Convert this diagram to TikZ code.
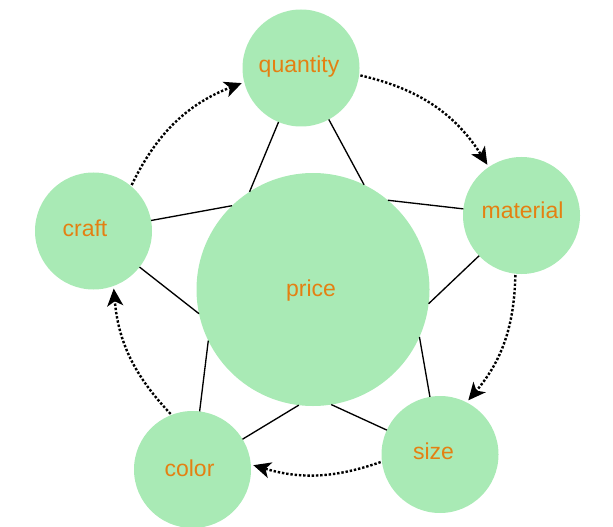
\documentclass[tikz,border=0pt]{standalone}
\usepackage{fontspec}
\setmainfont{Liberation Sans}
\usetikzlibrary{arrows.meta}
\definecolor{bubgreen}{RGB}{169,234,181}
\definecolor{txtorange}{RGB}{228,128,18}
\begin{document}
\begin{tikzpicture}[x=0.75pt,y=0.75pt,
 bub/.style={circle,fill=bubgreen,draw=none,inner sep=0pt,outer sep=0pt,minimum size=87.75pt},
 bigbub/.style={bub,minimum size=174.75pt},
 lbl/.style={text=txtorange,font=\fontsize{17.25}{20}\selectfont,anchor=base,inner sep=0pt},
 spoke/.style={draw=black,line width=1pt},
 flow/.style={line width=1.8pt,dash pattern=on 1.8pt off 1.4pt,-{Stealth[length=13pt,width=12pt,inset=3.5pt]},shorten >=2pt,shorten <=1pt}]
\useasboundingbox (0,0) rectangle (613,-527);
% circles
\node[bigbub] (p) at (313,-289.5) {};
\node[bub] (q) at (301,-68) {};
\node[bub] (m) at (521.5,-215.5) {};
\node[bub] (s) at (440,-454.5) {};
\node[bub] (c) at (192.5,-469.5) {};
\node[bub] (cr) at (93.5,-231) {};
% spokes
\draw[spoke] (q) -- (p.123.3);
\draw[spoke] (q) -- (p.64.8);
\draw[spoke] (cr) -- (p.134.5);
\draw[spoke] (cr) -- (p.192.5);
\draw[spoke] (m) -- (p.50.4);
\draw[spoke] (m) -- (p.353.4);
\draw[spoke] (s) -- (p.336.3);
\draw[spoke] (s) -- (p.279.8);
\draw[spoke] (c) -- (p.206.6);
\draw[spoke] (c) -- (p.263.6);
% flow arrows
\draw[flow] (cr.50) to[bend left=21.5] (q.194);
\draw[flow] (q.353) to[bend left=22.4] (m.124);
\draw[flow] (m.264) to[bend left=19.5] (s.63);
\draw[flow] (s.187) to[bend left=17.9] (c.5);
\draw[flow] (c.111) to[bend left=19.3] (cr.290);
% labels
\node[lbl] (pt) at (311,-296) {price};
\node[lbl] (qt) at (299,-73) {quantity};
\node[lbl] (mt) at (522.5,-219) {material};
\node[lbl] (st) at (433.5,-459) {size};
\node[lbl] (ct) at (189.5,-476) {color};
\node[lbl] (crt) at (85,-237) {craft};
\end{tikzpicture}
\end{document}
